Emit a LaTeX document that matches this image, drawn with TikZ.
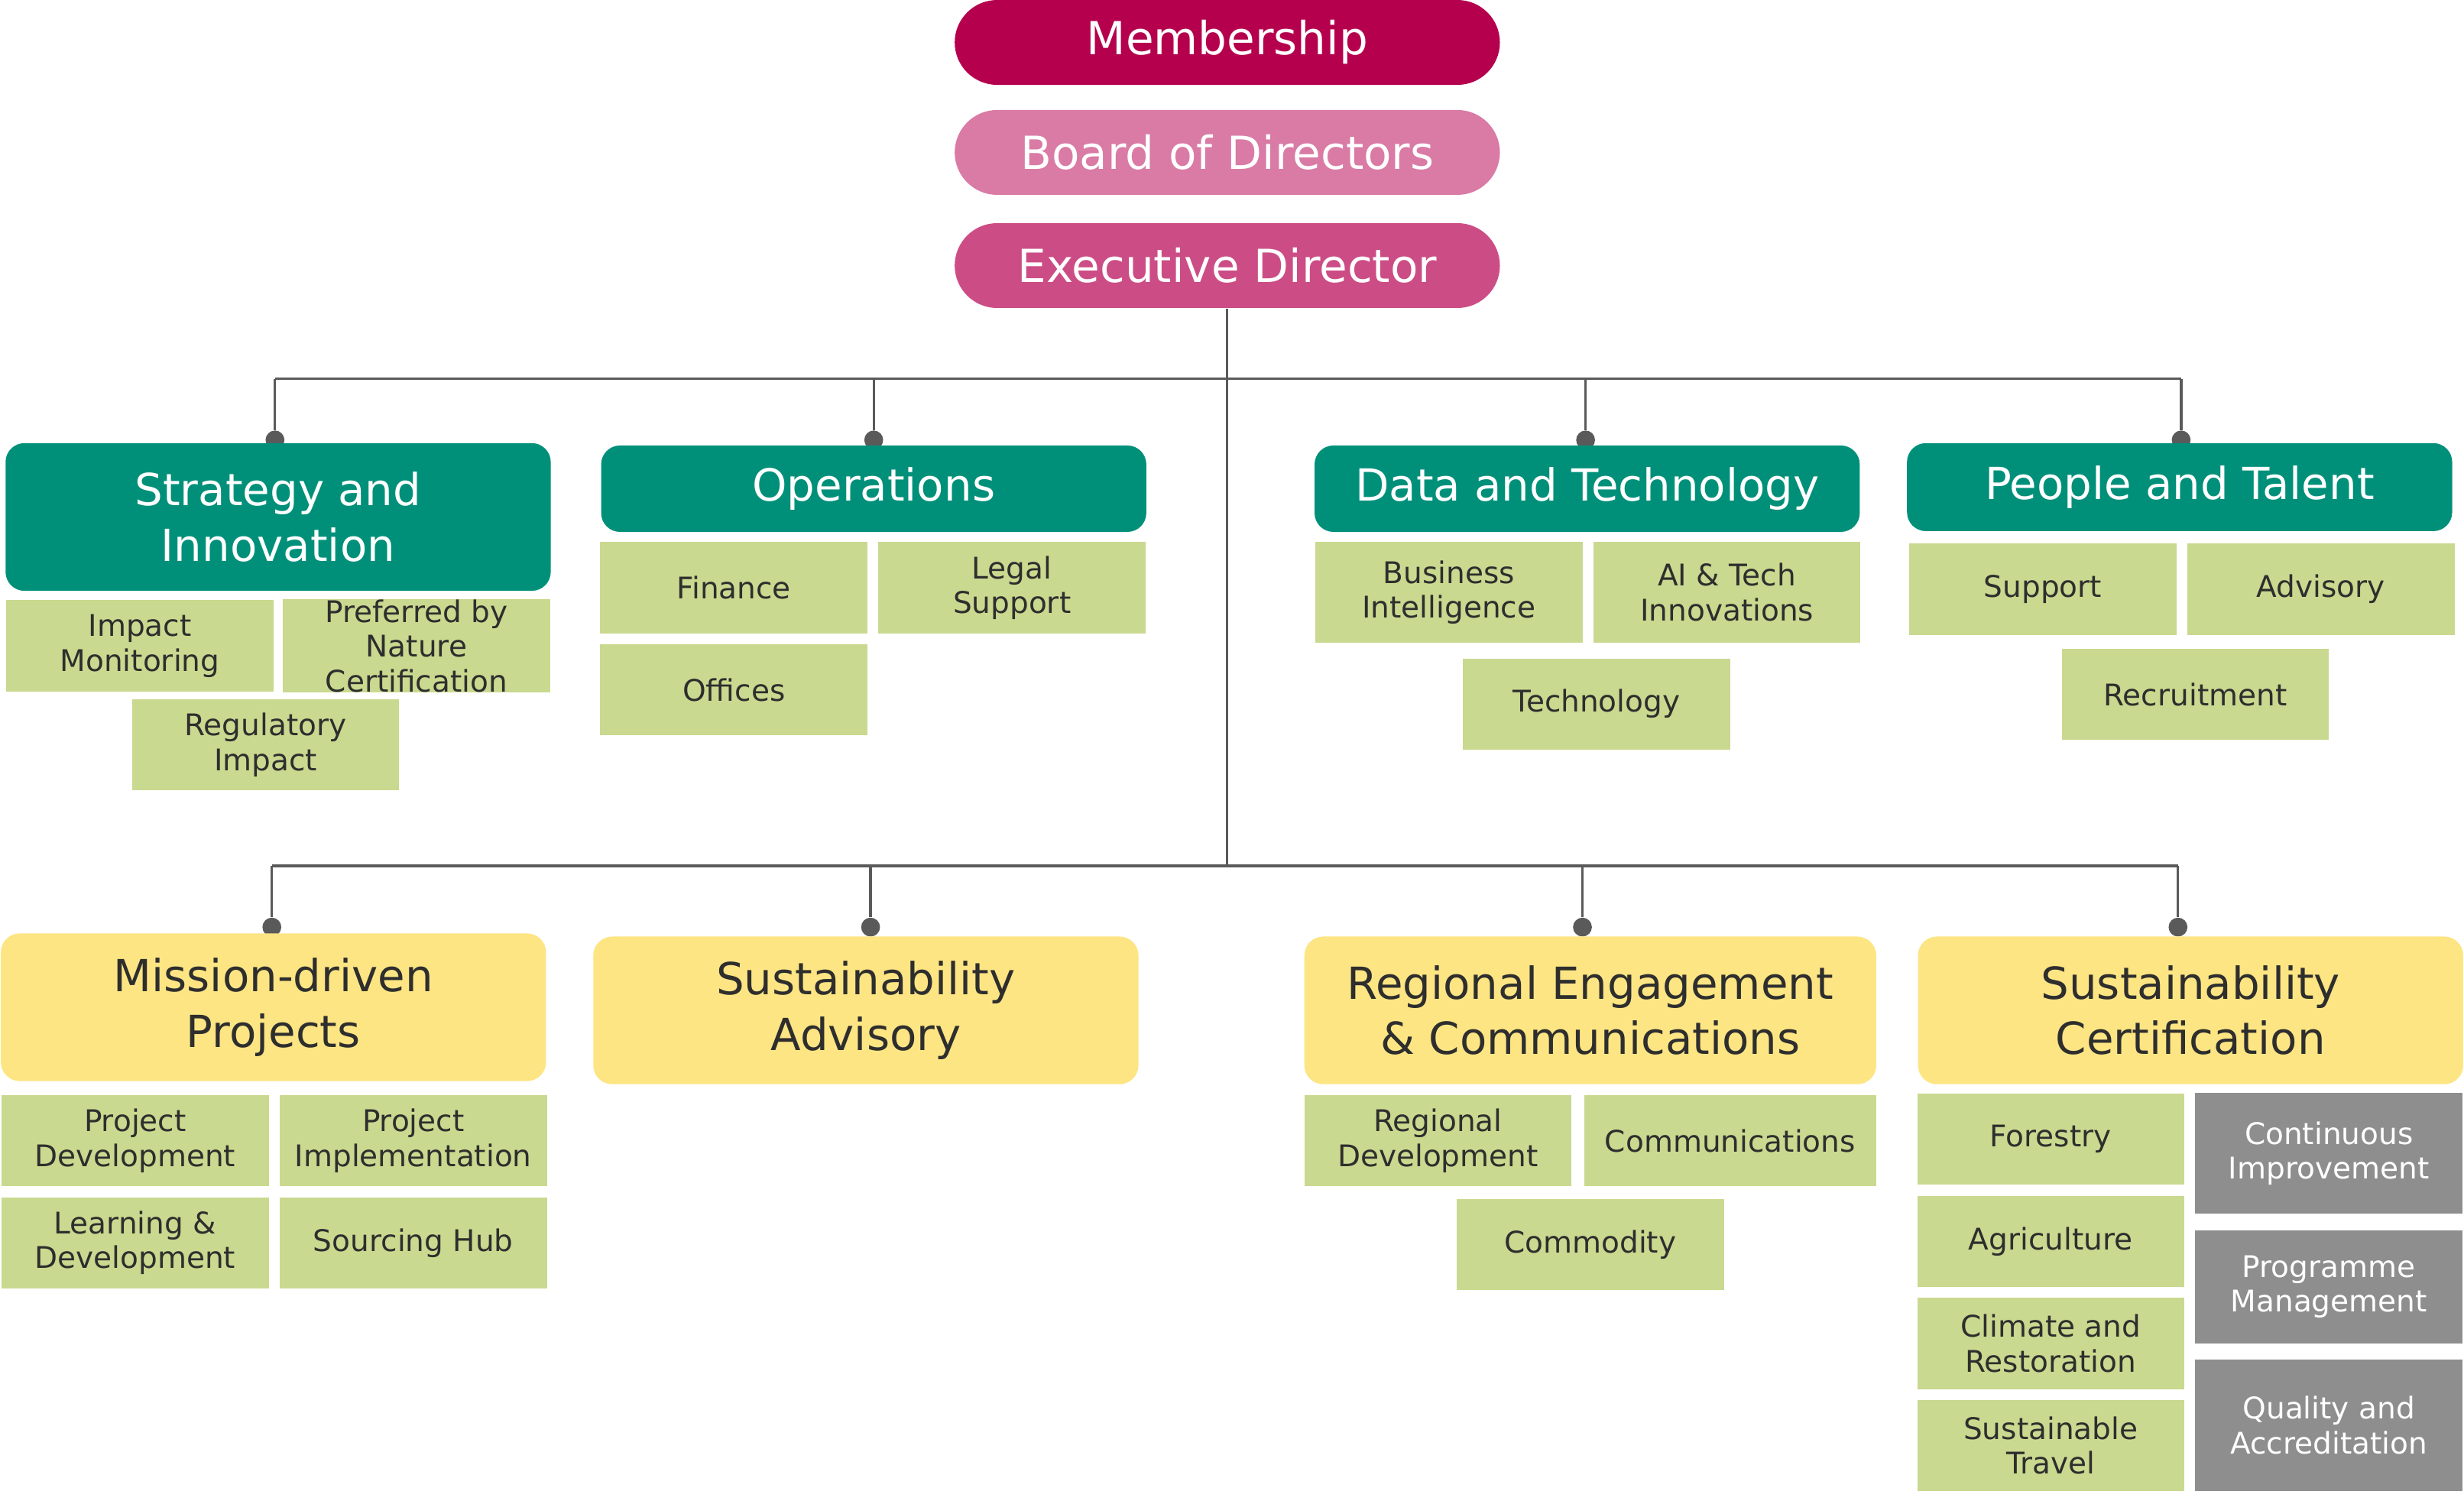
\documentclass[tikz,border=0pt]{standalone}
\usepackage{fontspec}
\setmainfont{DejaVu Sans}
\usetikzlibrary{positioning}
\definecolor{memberColor}{HTML}{B5004E}
\definecolor{boardColor}{HTML}{D97BA5}
\definecolor{execColor}{HTML}{CC4D85}
\definecolor{unitTeal}{HTML}{00907A}
\definecolor{unitYellow}{HTML}{FDE583}
\definecolor{subGreen}{HTML}{C9D98F}
\definecolor{subGray}{HTML}{8E8E8E}
\definecolor{textDark}{HTML}{2E2E2E}
\definecolor{lineGray}{HTML}{5A5A5A}
\tikzset{
    top_pill/.style={
        rounded corners=0.54cm,
        text=white,
        minimum width=6.94cm,
        minimum height=1.08cm,
        inner sep=0pt,
        font=\fontsize{16.5}{20}\selectfont
    },
    unit_box/.style={
        rounded corners=0.24cm,
        minimum width=6.94cm,
        inner sep=0pt,
        align=center,
        font=\fontsize{16}{20}\selectfont
    },
    teal_unit/.style={unit_box, fill=unitTeal, text=white},
    yellow_unit/.style={unit_box, fill=unitYellow, text=textDark},
    sub_box/.style={
        fill=subGreen,
        text=textDark,
        minimum width=3.4cm,
        minimum height=1.16cm,
        inner sep=0pt,
        align=center,
        font=\fontsize{10.8}{12.6}\selectfont
    },
    gray_box/.style={sub_box, fill=subGray, text=white},
    org_line/.style={draw=lineGray, line width=0.9pt},
    org_dot/.style={circle, fill=lineGray, inner sep=0pt, minimum size=0.24cm}
}
\begin{document}
\begin{tikzpicture}[x=0.02cm, y=-0.02cm]
    \useasboundingbox (0,0) rectangle (1568,957);

    % top of the chart
    \node[top_pill, fill=memberColor] (member) at (781,27) {Membership};
    \node[top_pill, fill=boardColor] (board) at (781,97) {Board of Directors};
    \node[top_pill, fill=execColor] (exec) at (781,169) {Executive Director};

    % buses
    \coordinate (upBus) at (781,241);
    \coordinate (lowBus) at (781,551);
    \foreach \name/\x in {strat/175, ops/556, data/1009, people/1388} {
        \coordinate (b\name) at (\x,241);
        \node[org_dot] (d\name) at (\x,280) {};
    }
    \foreach \name/\x in {mission/173, advis/554, region/1007, cert/1386} {
        \coordinate (b\name) at (\x,551);
        \node[org_dot] (d\name) at (\x,590) {};
    }
    \draw[org_line] (exec.south) -- (lowBus);
    \draw[org_line] (bstrat) -- (bpeople);
    \draw[org_line] (bmission) -- (bcert);
    \foreach \name in {strat, ops, data, people, mission, advis, region, cert}
        \draw[org_line] (b\name) -- (d\name);

    % upper units
    \node[teal_unit, minimum height=1.88cm] (strat) at (177,329) {Strategy and\\Innovation};
    \node[teal_unit, minimum height=1.10cm] (ops) at (556,311) {Operations};
    \node[teal_unit, minimum height=1.10cm] (data) at (1010,311) {Data and Technology};
    \node[teal_unit, minimum height=1.12cm] (people) at (1387,310) {People and Talent};

    \node[sub_box] (impact) at (89,411) {Impact\\Monitoring};
    \node[sub_box] (pbn) at (265,411) {Preferred by\\Nature\\Certification};
    \node[sub_box] (regul) at (169,474) {Regulatory\\Impact};

    \node[sub_box] (finance) at (467,374) {Finance};
    \node[sub_box] (legal) at (644,374) {Legal\\Support};
    \node[sub_box] (offices) at (467,439) {Offices};

    \node[sub_box, minimum height=1.28cm] (bi) at (922,377) {Business\\Intelligence};
    \node[sub_box, minimum height=1.28cm] (ai) at (1099,377) {AI \& Tech\\Innovations};
    \node[sub_box] (tech) at (1016,448) {Technology};

    \node[sub_box] (support) at (1300,375) {Support};
    \node[sub_box] (advisory) at (1477,375) {Advisory};
    \node[sub_box] (recruit) at (1397,442) {Recruitment};

    % lower units
    \node[yellow_unit, minimum height=1.88cm] (mission) at (174,641) {Mission-driven\\Projects};
    \node[yellow_unit, minimum height=1.88cm] (advis) at (551,643) {Sustainability\\Advisory};
    \node[yellow_unit, minimum width=7.28cm, minimum height=1.88cm] (region) at (1012,643) {Regional Engagement\\\& Communications};
    \node[yellow_unit, minimum height=1.88cm] (cert) at (1394,643) {Sustainability\\Certification};

    \node[sub_box] (projdev) at (86,726) {Project\\Development};
    \node[sub_box] (projimp) at (263,726) {Project\\Implementation};
    \node[sub_box] (learn) at (86,791) {Learning \&\\Development};
    \node[sub_box] (source) at (263,791) {Sourcing Hub};

    \node[sub_box] (regdev) at (915,726) {Regional\\Development};
    \node[sub_box, minimum width=3.72cm] (comms) at (1101,726) {Communications};
    \node[sub_box] (commod) at (1012,792) {Commodity};

    \node[sub_box] (forest) at (1305,725) {Forestry};
    \node[sub_box] (agri) at (1305,790) {Agriculture};
    \node[sub_box] (climate) at (1305,855) {Climate and\\Restoration};
    \node[sub_box] (travel) at (1305,920) {Sustainable\\Travel};
    \node[gray_box, minimum height=1.54cm] (contimp) at (1482,734) {Continuous\\Improvement};
    \node[gray_box, minimum height=1.44cm] (progman) at (1482,819) {Programme\\Management};
    \node[gray_box, minimum height=1.68cm] (quality) at (1482,907) {Quality and\\Accreditation};
\end{tikzpicture}
\end{document}
